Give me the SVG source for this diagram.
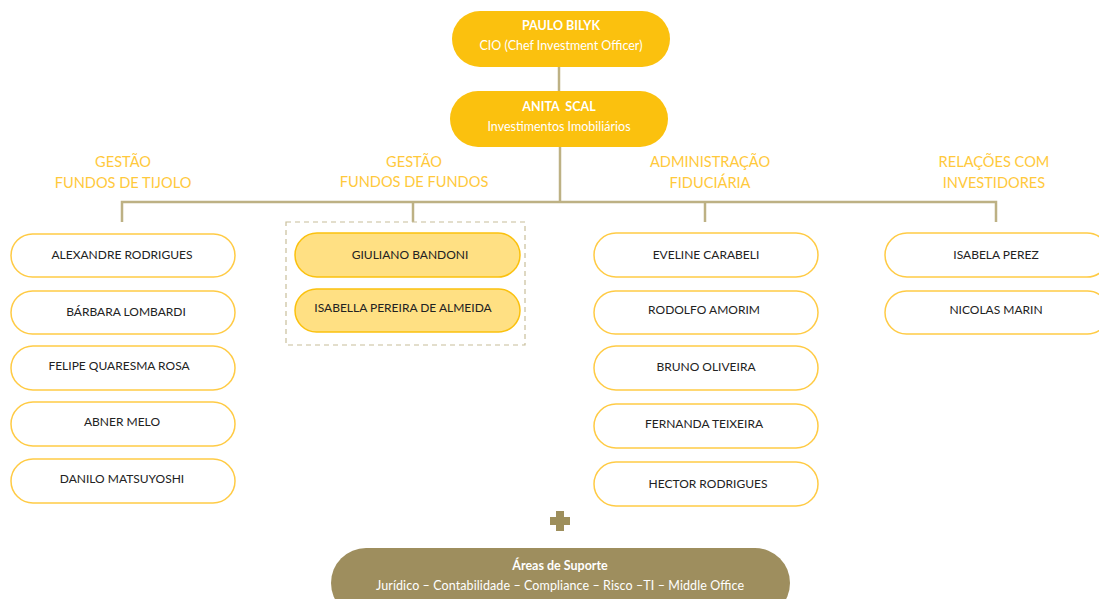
<svg xmlns="http://www.w3.org/2000/svg" width="1099" height="599" viewBox="0 0 1099 599">
<style>
.lead{fill:#FBC10E}
.lt{font-family:Lato,"Liberation Sans",sans-serif;fill:#fff;text-anchor:middle;font-size:12.5px}
.b{font-weight:bold}
.hd{font-family:Lato,"Liberation Sans",sans-serif;fill:#FFC93C;text-anchor:middle;font-size:14.6px}
.p{fill:#fff;stroke:#FFCB45;stroke-width:1.5}
.ph{fill:#FFE083;stroke:#FBC10E;stroke-width:1.5}
.nt{font-family:Lato,"Liberation Sans",sans-serif;fill:#222;text-anchor:middle;font-size:12px}
.con{stroke:#BDB184;stroke-width:2.5;fill:none}
</style>
<rect width="1099" height="599" fill="#fff"/>
<g id="connectors">
<line class="con" x1="559" y1="67" x2="559" y2="92"/>
<line class="con" x1="560" y1="147" x2="560" y2="202"/>
<polyline class="con" points="122,222 122,202 996,202 996,222"/>
<line class="con" x1="413" y1="202" x2="413" y2="222"/>
<line class="con" x1="705" y1="202" x2="705" y2="222"/>
</g>
<g id="paulo">
<rect class="lead" x="452" y="11" width="218" height="56" rx="28"/>
<text class="lt b" x="561" y="30">PAULO BILYK</text>
<text class="lt" x="561" y="50">CIO (Chef Investment Officer)</text>
</g>
<g id="anita">
<rect class="lead" x="450" y="91" width="218" height="56" rx="28"/>
<text class="lt b" x="559" y="111" xml:space="preserve">ANITA  SCAL</text>
<text class="lt" x="559" y="131">Investimentos Imobiliários</text>
</g>
<g id="headers">
<text class="hd" x="123" y="167">GESTÃO</text>
<text class="hd" x="123" y="188">FUNDOS DE TIJOLO</text>
<text class="hd" x="414" y="167">GESTÃO</text>
<text class="hd" x="414" y="187">FUNDOS DE FUNDOS</text>
<text class="hd" x="710" y="167">ADMINISTRAÇÃO</text>
<text class="hd" x="710" y="188">FIDUCIÁRIA</text>
<text class="hd" x="994" y="167">RELAÇÕES COM</text>
<text class="hd" x="994" y="188">INVESTIDORES</text>
</g>
<g id="col1">
<g id="alexandre"><rect class="p" x="11" y="234" width="224" height="43" rx="21.5"/><text class="nt" x="122" y="259">ALEXANDRE RODRIGUES</text></g>
<g id="barbara"><rect class="p" x="11" y="291" width="224" height="43" rx="21.5"/><text class="nt" x="126" y="316">BÁRBARA LOMBARDI</text></g>
<g id="felipe"><rect class="p" x="11" y="346" width="224" height="44" rx="22"/><text class="nt" x="119" y="370">FELIPE QUARESMA ROSA</text></g>
<g id="abner"><rect class="p" x="11" y="402" width="224" height="44" rx="22"/><text class="nt" x="122" y="426">ABNER MELO</text></g>
<g id="danilo"><rect class="p" x="11" y="459" width="224" height="44" rx="22"/><text class="nt" x="122" y="483">DANILO MATSUYOSHI</text></g>
</g>
<g id="col2">
<rect x="286" y="222" width="239" height="123" fill="none" stroke="#C8BE9A" stroke-width="1.2" stroke-dasharray="5,4"/>
<g id="giuliano"><rect class="ph" x="295" y="233" width="225" height="44" rx="22"/><text class="nt" x="410" y="259">GIULIANO BANDONI</text></g>
<g id="isabella"><rect class="ph" x="295" y="289" width="225" height="43" rx="21.5"/><text class="nt" x="403" y="312">ISABELLA PEREIRA DE ALMEIDA</text></g>
</g>
<g id="col3">
<g id="eveline"><rect class="p" x="594" y="233" width="224" height="44" rx="22"/><text class="nt" x="706" y="259">EVELINE CARABELI</text></g>
<g id="rodolfo"><rect class="p" x="594" y="291" width="224" height="43" rx="21.5"/><text class="nt" x="704" y="314">RODOLFO AMORIM</text></g>
<g id="bruno"><rect class="p" x="594" y="346" width="224" height="44" rx="22"/><text class="nt" x="706" y="371">BRUNO OLIVEIRA</text></g>
<g id="fernanda"><rect class="p" x="594" y="404" width="224" height="44" rx="22"/><text class="nt" x="704" y="428">FERNANDA TEIXEIRA</text></g>
<g id="hector"><rect class="p" x="594" y="462" width="224" height="44" rx="22"/><text class="nt" x="708" y="488">HECTOR RODRIGUES</text></g>
</g>
<g id="col4">
<g id="isabela"><rect class="p" x="885" y="233" width="224" height="44" rx="22"/><text class="nt" x="996" y="259">ISABELA PEREZ</text></g>
<g id="nicolas"><rect class="p" x="885" y="291" width="224" height="43" rx="21.5"/><text class="nt" x="996" y="314">NICOLAS MARIN</text></g>
</g>
<g id="plus">
<path d="M556,511 h8 v6 h6 v8 h-6 v6 h-8 v-6 h-6 v-8 h6 z" fill="#9E8F5C"/>
</g>
<g id="suporte">
<rect x="331" y="548" width="459" height="70" rx="35" fill="#9E8E5E"/>
<text class="lt b" x="560" y="570">Áreas de Suporte</text>
<text class="lt" x="560" y="590" textLength="368" lengthAdjust="spacing">Jurídico – Contabilidade – Compliance – Risco –TI – Middle Office</text>
</g>
</svg>
